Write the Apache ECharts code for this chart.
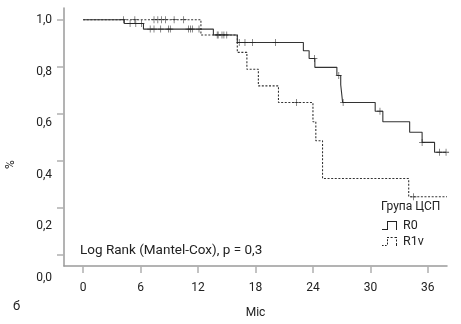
<!DOCTYPE html>
<html>
<head>
<meta charset="utf-8">
<script src="https://cdn.jsdelivr.net/npm/echarts@6/dist/echarts.min.js"></script>
<style>
  html, body { margin: 0; padding: 0; background: #fff; }
  #chart { width: 461px; height: 324px; }
</style>
</head>
<body>
<div id="chart"></div>
<script>
// Kaplan–Meier survival by group (months)
const r0Times = [0, 4.3, 6.3, 13.6, 16.1, 23.0, 23.6, 24.2, 26.5, 26.9, 27.1, 30.5, 31.3, 34.1, 35.4, 36.7];
const r0Surv  = [1.0, 0.984, 0.960, 0.935, 0.903, 0.868, 0.835, 0.797, 0.762, 0.723, 0.647, 0.610, 0.565, 0.520, 0.477, 0.435];
const r0End = 37.9;
const r0Censored = [4.9, 5.5, 6.1, 7.0, 7.4, 8.1, 8.9, 9.1, 11.0, 11.2, 11.4, 12.1, 14.1, 14.5, 14.7, 15.0,
                    16.3, 16.9, 17.7, 20.1, 24.15, 26.7, 27.15, 31.0, 35.4, 37.2, 37.9];

const r1Times = [0, 12.3, 16.1, 17.1, 18.3, 20.4, 24.0, 24.3, 25.0, 34.0];
const r1Surv  = [1.0, 0.935, 0.861, 0.789, 0.718, 0.647, 0.565, 0.484, 0.323, 0.245];
const r1End = 38.0;
const r1Censored = [4.2, 5.4, 7.4, 7.8, 8.2, 8.6, 9.5, 10.5, 14.0, 22.3, 34.5];

const xTicks = [0, 6, 12, 18, 24, 30, 36];
const yTicks = [0, 0.2, 0.4, 0.6, 0.8, 1.0];
const groupNames = ['R0', 'R1v'];

function stepData(times, surv, end) {
  const d = times.map((t, i) => [t, surv[i]]);
  d.push([end, surv[surv.length - 1]]);
  return d;
}
function survAt(times, surv, t) {
  let v = surv[0];
  for (let i = 0; i < times.length; i++) if (times[i] <= t) v = surv[i];
  return v;
}
function censorData(times, surv, cens) {
  return cens.map(t => [t, survAt(times, surv, t)]);
}

const font = 'Roboto, "DejaVu Sans", sans-serif';
const textColor = '#222';
const plusIcon = 'path://M4,0h1v9h-1zM0,4h9v1h-9z';
const solidStepIcon = 'path://M0,8H5V0H15V9H14V1H6V9H0Z';
const dashedStepIcon = 'path://M0,8h1.6v1h-1.6zM3,8h1.6v1h-1.6zM5,5.6h1v2h-1zM5,2.2h1v2h-1zM5,0h2v1h-2zM8.6,0h2v1h-2zM12.5,0h2.5v1h-2.5zM14,2.4h1v2h-1zM14,6h1v3h-1z';

const chart = echarts.init(document.getElementById('chart'), null, { renderer: 'canvas' });
chart.setOption({
  animation: false,
  backgroundColor: '#fff',
  textStyle: { fontFamily: font },
  grid: [
    { left: 64, top: 8, width: 383, height: 261 },
    { left: 64, top: 8, width: 383, height: 282 }
  ],
  xAxis: [
    {
      gridIndex: 0, type: 'value', min: -2, max: 38,
      splitLine: { show: false },
      axisLine: { onZero: false, lineStyle: { color: '#9a9a9a', width: 1.5 } },
      axisTick: { customValues: xTicks, length: 7, lineStyle: { color: '#b0b0b0', width: 1.5 } },
      axisLabel: { customValues: xTicks, margin: 16, fontSize: 12, color: textColor, fontFamily: font },
      name: 'Міс', nameLocation: 'middle', nameGap: 41,
      nameTextStyle: { fontSize: 12, color: textColor, fontFamily: font }
    },
    { gridIndex: 1, type: 'value', min: -2, max: 38, show: false }
  ],
  yAxis: [
    {
      gridIndex: 0, type: 'value', min: -0.05, max: 1.05,
      splitLine: { show: false },
      axisLine: { show: true, onZero: false, lineStyle: { color: '#9a9a9a', width: 1.5 } },
      axisTick: { show: true, customValues: yTicks, length: 7, lineStyle: { color: '#b0b0b0', width: 1.5 } },
      axisLabel: { show: false }
    },
    {
      gridIndex: 1, type: 'value', min: -0.0466, max: 1.0477,
      splitLine: { show: false },
      axisLine: { show: false },
      axisTick: { show: false },
      axisLabel: {
        customValues: yTicks, margin: 12, fontSize: 12, color: textColor, fontFamily: font,
        formatter: v => v.toFixed(1).replace('.', ',')
      }
    }
  ],
  legend: {
    orient: 'vertical', left: 382, top: 219, padding: 0,
    itemWidth: 15, itemHeight: 9, itemGap: 3,
    symbolKeepAspect: false,
    itemStyle: { color: '#222', borderWidth: 0 },
    textStyle: { fontSize: 12.5, color: textColor, fontFamily: font, padding: [0, 0, 0, 1] },
    data: [
      { name: groupNames[0], icon: solidStepIcon },
      { name: groupNames[1], icon: dashedStepIcon }
    ],
    selectedMode: false
  },
  series: [
    {
      name: groupNames[0], type: 'line', step: 'end', xAxisIndex: 0, yAxisIndex: 0,
      data: stepData(r0Times, r0Surv, r0End), showSymbol: false, symbol: 'none',
      lineStyle: { color: '#333', width: 1.1 }, itemStyle: { color: '#222' }
    },
    {
      name: groupNames[1], type: 'line', step: 'end', xAxisIndex: 0, yAxisIndex: 0,
      data: stepData(r1Times, r1Surv, r1End), showSymbol: false, symbol: 'none',
      lineStyle: { color: '#333', width: 1.1, type: [2, 1.6] }, itemStyle: { color: '#222' }
    },
    {
      name: 'R0 censored', type: 'scatter', xAxisIndex: 0, yAxisIndex: 0,
      data: censorData(r0Times, r0Surv, r0Censored),
      symbol: plusIcon, symbolSize: [6, 7], itemStyle: { color: '#222' }, z: 3
    },
    {
      name: 'R1v censored', type: 'scatter', xAxisIndex: 0, yAxisIndex: 0,
      data: censorData(r1Times, r1Surv, r1Censored),
      symbol: plusIcon, symbolSize: [6, 7], itemStyle: { color: '#222' }, z: 3
    }
  ],
  graphic: [
    { type: 'text', left: 381, top: 201,
      style: { text: 'Група ЦСП', fill: textColor, font: '12px ' + font } },
    { type: 'text', left: 80, top: 244,
      style: { text: 'Log Rank (Mantel-Cox), p = 0,3', fill: textColor, font: '13.5px ' + font } },
    { type: 'text', left: 13, top: 300,
      style: { text: 'б', fill: textColor, font: '13px ' + font } },
    { type: 'text', x: 5, y: 169, rotation: Math.PI / 2,
      style: { text: '%', fill: textColor, font: '12px ' + font } }
  ]
});
</script>
</body>
</html>
